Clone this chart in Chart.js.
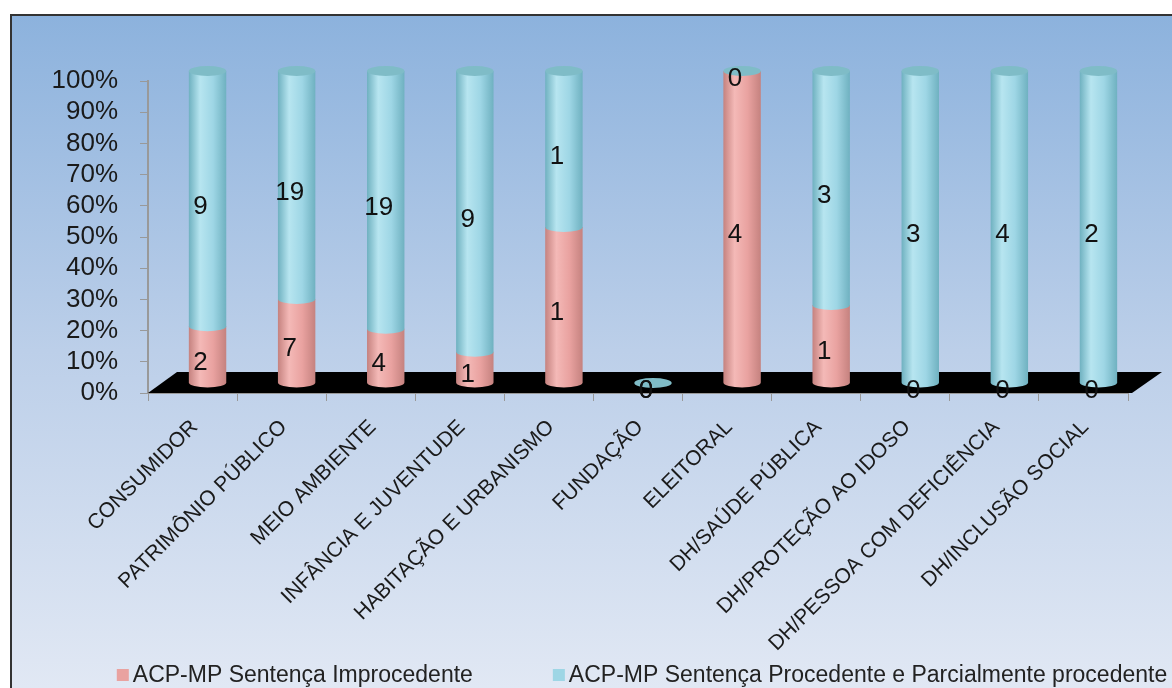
<!DOCTYPE html>
<html>
<head>
  <title></title>
  <script src="https://cdn.jsdelivr.net/npm/chart.js"></script>
  <style>
    html, body { margin: 0; padding: 0; background: #fff; overflow: hidden; }
  </style>
</head>
<body>
<canvas id="myChart" width="1172" height="688"></canvas>
<script>
  const categories = [
    'CONSUMIDOR', 'PATRIMÔNIO PÚBLICO', 'MEIO AMBIENTE', 'INFÂNCIA E JUVENTUDE',
    'HABITAÇÃO E URBANISMO', 'FUNDAÇÃO', 'ELEITORAL', 'DH/SAÚDE PÚBLICA',
    'DH/PROTEÇÃO AO IDOSO', 'DH/PESSOA COM DEFICIÊNCIA', 'DH/INCLUSÃO SOCIAL'
  ];
  const improcedente = [2, 7, 4, 1, 1, 0, 4, 1, 0, 0, 0];
  const procedente = [9, 19, 19, 9, 1, 0, 0, 3, 3, 4, 2];
  const seriesNames = [
    'ACP-MP Sentença Improcedente',
    'ACP-MP Sentença Procedente e Parcialmente procedente'
  ];

  // 100% stacked: share of each category
  function share(values, other) {
    return values.map((v, i) => {
      const total = v + other[i];
      return total ? v / total * 100 : 0;
    });
  }

  const FONT = "'Liberation Sans', Arial, sans-serif";
  const DX = 15, DY = -10, RY = 5;

  const palette = [
    { edge: '#c5827f', light: '#f4b9b7', body: '#e9a2a0' },
    { edge: '#6fb1c0', light: '#b7e5f0', body: '#9ed6e5' }
  ];

  const background = {
    id: 'background',
    beforeDraw(chart) {
      const ctx = chart.ctx;
      ctx.save();
      ctx.fillStyle = '#fff';
      ctx.fillRect(0, 0, chart.width, chart.height);
      const g = ctx.createLinearGradient(0, 14, 0, chart.height);
      g.addColorStop(0, '#8cb2dd');
      g.addColorStop(0.5, '#bccfe9');
      g.addColorStop(1, '#e1e8f4');
      ctx.fillStyle = g;
      ctx.fillRect(10, 14, chart.width - 10, chart.height - 14);
      ctx.strokeStyle = '#333';
      ctx.lineWidth = 2;
      ctx.beginPath();
      ctx.moveTo(11, chart.height);
      ctx.lineTo(11, 15);
      ctx.lineTo(chart.width, 15);
      ctx.stroke();
      ctx.restore();
    }
  };

  function segment(ctx, x, w, top, bottom, colors) {
    if (bottom - top < 0.5) return;
    const g = ctx.createLinearGradient(x - w / 2, 0, x + w / 2, 0);
    g.addColorStop(0, colors.edge);
    g.addColorStop(0.3, colors.light);
    g.addColorStop(0.65, colors.body);
    g.addColorStop(1, colors.edge);
    ctx.fillStyle = g;
    ctx.beginPath();
    ctx.moveTo(x - w / 2, top);
    ctx.lineTo(x - w / 2, bottom);
    ctx.ellipse(x, bottom, w / 2, RY, 0, Math.PI, 0, true);
    ctx.lineTo(x + w / 2, top);
    ctx.closePath();
    ctx.fill();
  }

  const cylinders = {
    id: 'cylinders',
    beforeDatasetsDraw(chart) {
      const ctx = chart.ctx;
      const area = chart.chartArea;
      ctx.save();
      // black floor
      ctx.fillStyle = '#000';
      ctx.beginPath();
      ctx.moveTo(area.left, area.bottom);
      ctx.lineTo(area.right + 4, area.bottom);
      ctx.lineTo(area.right + 34, area.bottom - 21);
      ctx.lineTo(area.left + 29, area.bottom - 21);
      ctx.closePath();
      ctx.fill();

      const m0 = chart.getDatasetMeta(0);
      const m1 = chart.getDatasetMeta(1);
      m0.data.forEach((b0, i) => {
        const b1 = m1.data[i];
        const x = b0.x + DX;
        const w = b0.width;
        segment(ctx, x, w, b0.y + DY, b0.base + DY, palette[0]);
        segment(ctx, x, w, b1.y + DY, b1.base + DY, palette[1]);
        ctx.fillStyle = '#7fbcc7';
        ctx.beginPath();
        ctx.ellipse(x, Math.min(b0.y, b1.y) + DY, w / 2, RY, 0, 0, Math.PI * 2);
        ctx.fill();
      });
      ctx.restore();
      return false;
    },
    afterDraw(chart) {
      const ctx = chart.ctx;
      ctx.save();
      ctx.fillStyle = '#111';
      ctx.font = '26px ' + FONT;
      ctx.textAlign = 'center';
      ctx.textBaseline = 'middle';
      const raw = [improcedente, procedente];
      [0, 1].forEach(d => {
        chart.getDatasetMeta(d).data.forEach((b, i) => {
          ctx.fillText(String(raw[d][i]), b.x + DX - 7, (b.y + b.base) / 2 + DY + 8);
        });
      });

      // legend
      ctx.font = '23px ' + FONT;
      ctx.textAlign = 'left';
      const gap = 80, box = 12, pad = 4;
      const widths = seriesNames.map(t => box + pad + ctx.measureText(t).width);
      const total = widths[0] + gap + widths[1];
      const area = chart.chartArea;
      let x = (area.left + area.right) / 2 + 4 - total / 2;
      const y = 675;
      seriesNames.forEach((t, i) => {
        ctx.fillStyle = palette[i].body;
        ctx.fillRect(x, y - 6, box, box);
        ctx.fillStyle = '#222';
        ctx.fillText(t, x + box + pad, y + 1);
        x += widths[i] + gap;
      });
      ctx.restore();
    }
  };

  new Chart(document.getElementById('myChart'), {
    type: 'bar',
    data: {
      labels: categories,
      datasets: [
        { label: seriesNames[0], data: share(improcedente, procedente), backgroundColor: palette[0].body },
        { label: seriesNames[1], data: share(procedente, improcedente), backgroundColor: palette[1].body }
      ]
    },
    options: {
      responsive: false,
      animation: false,
      devicePixelRatio: 1,
      categoryPercentage: 1,
      barPercentage: 0.42,
      layout: { padding: { left: 0, right: 44, top: 81, bottom: 0 } },
      plugins: {
        legend: { display: false },
        tooltip: { enabled: false }
      },
      scales: {
        x: {
          stacked: true,
          grid: { offset: true, drawOnChartArea: false, color: '#999', tickLength: 8 },
          border: { color: '#999', width: 2 },
          ticks: {
            autoSkip: false,
            minRotation: 45,
            maxRotation: 45,
            labelOffset: 2,
            padding: 14,
            color: '#1a1a1a',
            font: { family: FONT, size: 21 }
          },
          afterFit(scale) { scale.height = 295; }
        },
        y: {
          stacked: true,
          min: 0,
          max: 100,
          grid: { drawOnChartArea: false, color: '#999', tickLength: 8 },
          border: { color: '#999', width: 2 },
          ticks: {
            autoSkip: false,
            stepSize: 10,
            padding: 22,
            color: '#1a1a1a',
            font: { family: FONT, size: 26 },
            callback: v => v + '%'
          },
          afterFit(scale) { scale.width = 148; }
        }
      }
    },
    plugins: [background, cylinders]
  });
</script>
</body>
</html>
